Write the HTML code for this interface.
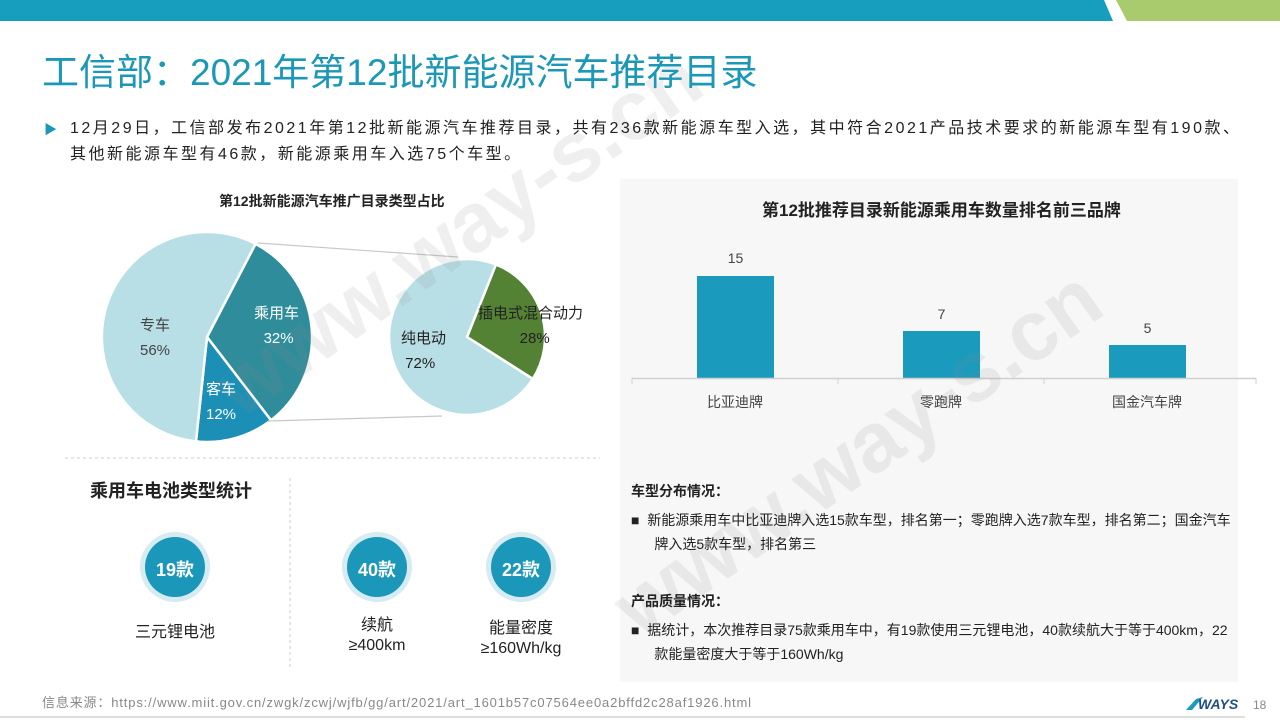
<!DOCTYPE html>
<html><head><meta charset="utf-8"><style>
body{margin:0;width:1280px;height:720px;overflow:hidden;background:#fff;font-family:"Liberation Sans","Noto Sans CJK SC",sans-serif;position:relative}
.a{position:absolute;white-space:nowrap}
.b{font-weight:bold}
</style></head><body>
<svg class="a" style="left:0;top:0" width="1280" height="720">
<polygon points="0,0 1104,0 1113,21 0,21" fill="#179dbe"/>
<polygon points="1116,0 1280,0 1280,21 1127,21" fill="#a9cb6e"/>
<rect x="620" y="179" width="618" height="503" fill="#f7f7f7"/>
<g transform="translate(207,337)" stroke="#fff" stroke-width="2.5">
<path d="M0,0 L48.5,-93.1 A105,105 0 0 1 64,83.3 Z" fill="#2f8d9b"/>
<path d="M0,0 L64,83.3 A105,105 0 0 1 -11,104.4 Z" fill="#1b8fb5"/>
<path d="M0,0 L-11,104.4 A105,105 0 1 1 48.5,-93.1 Z" fill="#b8dfe6"/>
</g>
<line x1="258" y1="243" x2="458" y2="257" stroke="#c8c8c8" stroke-width="1.2"/>
<line x1="268" y1="421" x2="442" y2="416" stroke="#c8c8c8" stroke-width="1.2"/>
<g transform="translate(467,337)" stroke="#fff" stroke-width="2.5">
<path d="M0,0 L28.9,-72.5 A78,78 0 0 1 65.8,41.9 Z" fill="#548235"/>
<path d="M0,0 L65.8,41.9 A78,78 0 1 1 28.9,-72.5 Z" fill="#b8dfe6"/>
</g>
<line x1="65" y1="458" x2="600" y2="458" stroke="#ccc" stroke-dasharray="3,3"/>
<line x1="290" y1="478" x2="290" y2="668" stroke="#ccc" stroke-dasharray="3,3"/>
<g fill="#d6ebf2"><circle cx="175" cy="567" r="35"/><circle cx="377" cy="567" r="35"/><circle cx="521" cy="567" r="35"/></g>
<g fill="#1b97ba"><circle cx="175" cy="567" r="30"/><circle cx="377" cy="567" r="30"/><circle cx="521" cy="567" r="30"/></g>
<g fill="#1a9bbd"><rect x="697" y="276" width="77" height="102"/><rect x="903" y="331" width="77" height="47"/><rect x="1109" y="345" width="77" height="33"/></g>
<line x1="632" y1="378.5" x2="1256" y2="378.5" stroke="#d0d0d0" stroke-width="1.5"/>
<g stroke="#d0d0d0"><line x1="632" y1="378" x2="632" y2="384"/><line x1="838" y1="378" x2="838" y2="384"/><line x1="1044" y1="378" x2="1044" y2="384"/><line x1="1256" y1="378" x2="1256" y2="384"/></g>
<line x1="0" y1="717" x2="1245" y2="717" stroke="#ddd" stroke-width="2"/>
<polygon points="1186,710 1196,699 1203,697 1192,710" fill="#1a9bbd"/>
<g opacity="0.14" fill="#888" font-family="Liberation Sans,sans-serif" font-weight="bold">
<text x="0" y="0" font-size="84" transform="translate(240,420) rotate(-35)">www.way-s.cn</text>
<text x="0" y="0" font-size="84" transform="translate(640,640) rotate(-35)">www.way-s.cn</text>
</g>
</svg>
<div class="a" style="left:42px;top:42px;font-size:37px;color:#1b97b8">工信部：2021年第12批新能源汽车推荐目录</div>
<div class="a" style="left:44px;top:119px;font-size:13px;color:#1b97b8">▶</div>
<div class="a" style="left:70px;top:116px;font-size:16px;line-height:26px;color:#222;letter-spacing:2.5px">12月29日，工信部发布2021年第12批新能源汽车推荐目录，共有236款新能源车型入选，其中符合2021产品技术要求的新能源车型有190款、<br>其他新能源车型有46款，新能源乘用车入选75个车型。</div>
<div class="a b" style="left:219px;top:191px;font-size:14px;color:#222">第12批新能源汽车推广目录类型占比</div>
<div class="a" style="left:140px;top:313px;font-size:15px;line-height:25px;color:#444;text-align:center">专车<br>56%</div>
<div class="a" style="left:254px;top:301px;font-size:15px;line-height:25px;color:#fff;text-align:center">乘用车<br>&nbsp;32%</div>
<div class="a" style="left:206px;top:377px;font-size:15px;line-height:25px;color:#fff;text-align:center">客车<br>12%</div>
<div class="a" style="left:401px;top:326px;font-size:15px;line-height:25px;color:#222">纯电动<br>&nbsp;72%</div>
<div class="a" style="left:478px;top:301px;font-size:15px;line-height:25px;color:#222">插电式混合动力<br>&nbsp;&nbsp;&nbsp;&nbsp;&nbsp;&nbsp;&nbsp;&nbsp;&nbsp;&nbsp;28%</div>
<div class="a b" style="left:90px;top:477px;font-size:18px;color:#222">乘用车电池类型统计</div>
<div class="a b" style="left:145px;top:556px;width:60px;text-align:center;font-size:18px;color:#fff">19款</div>
<div class="a b" style="left:347px;top:556px;width:60px;text-align:center;font-size:18px;color:#fff">40款</div>
<div class="a b" style="left:491px;top:556px;width:60px;text-align:center;font-size:18px;color:#fff">22款</div>
<div class="a" style="left:115px;top:618px;width:120px;text-align:center;font-size:16px;color:#222">三元锂电池</div>
<div class="a" style="left:317px;top:616px;width:120px;text-align:center;font-size:16px;line-height:20px;color:#222">续航<br>≥400km</div>
<div class="a" style="left:461px;top:619px;width:120px;text-align:center;font-size:16px;line-height:20px;color:#222">能量密度<br>≥160Wh/kg</div>
<div class="a" style="left:42px;top:692px;font-size:13px;color:#888;letter-spacing:0.85px">信息来源：https://www.miit.gov.cn/zwgk/zcwj/wjfb/gg/art/2021/art_1601b57c07564ee0a2bffd2c28af1926.html</div>
<div class="a b" style="left:762px;top:196px;font-size:17px;color:#222">第12批推荐目录新能源乘用车数量排名前三品牌</div>
<div class="a" style="left:697px;top:250px;width:77px;text-align:center;font-size:14px;color:#444">15</div>
<div class="a" style="left:903px;top:306px;width:77px;text-align:center;font-size:14px;color:#444">7</div>
<div class="a" style="left:1109px;top:320px;width:77px;text-align:center;font-size:14px;color:#444">5</div>
<div class="a" style="left:685px;top:392px;width:100px;text-align:center;font-size:14px;color:#444">比亚迪牌</div>
<div class="a" style="left:891px;top:392px;width:100px;text-align:center;font-size:14px;color:#444">零跑牌</div>
<div class="a" style="left:1097px;top:392px;width:100px;text-align:center;font-size:14px;color:#444">国金汽车牌</div>
<div class="a b" style="left:631px;top:481px;font-size:14px;color:#222">车型分布情况：</div>
<div class="a" style="left:631px;top:508px;font-size:14px;line-height:24px;color:#222">■&nbsp;&nbsp;新能源乘用车中比亚迪牌入选15款车型，排名第一；零跑牌入选7款车型，排名第二；国金汽车<br>&nbsp;&nbsp;&nbsp;&nbsp;&nbsp;&nbsp;牌入选5款车型，排名第三</div>
<div class="a b" style="left:631px;top:591px;font-size:14px;color:#222">产品质量情况：</div>
<div class="a" style="left:631px;top:618px;font-size:14px;line-height:24px;color:#222">■&nbsp;&nbsp;据统计，本次推荐目录75款乘用车中，有19款使用三元锂电池，40款续航大于等于400km，22<br>&nbsp;&nbsp;&nbsp;&nbsp;&nbsp;&nbsp;款能量密度大于等于160Wh/kg</div>
<div class="a b" style="left:1198px;top:696px;font-size:14px;font-style:italic;color:#1f4e8c">WAYS</div>
<div class="a" style="left:1253px;top:698px;font-size:12px;color:#888">18</div>
</body></html>
